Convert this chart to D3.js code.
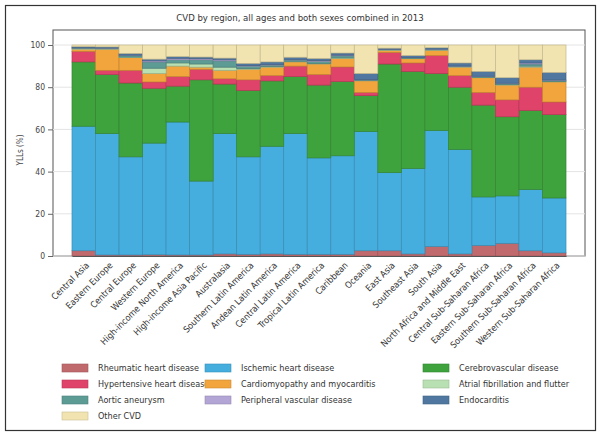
<!DOCTYPE html>
<html lang="en">
<head>
  <meta charset="UTF-8">
  <title>CVD by region</title>
  <script src="https://d3js.org/d3.v7.min.js"></script>
  <style>
    body { margin: 0; background: #fff; font-family: "Liberation Sans Narrow", "DejaVu Sans Condensed", sans-serif; }
    svg text { font-family: "Liberation Sans Narrow", "DejaVu Sans Condensed", sans-serif; }
  </style>
</head>
<body>
<script>
  const WIDTH = 602;
  const HEIGHT = 436;

  const regions = ['Central Asia', 'Eastern Europe', 'Central Europe', 'Western Europe',
    'High-income North America', 'High-income Asia Pacific', 'Australasia',
    'Southern Latin America', 'Andean Latin America', 'Central Latin America',
    'Tropical Latin America', 'Caribbean', 'Oceania', 'East Asia', 'Southeast Asia',
    'South Asia', 'North Africa and Middle East', 'Central Sub-Saharan Africa',
    'Eastern Sub-Saharan Africa', 'Southern Sub-Saharan Africa', 'Western Sub-Saharan Africa'];

  const causes = ['Rheumatic heart disease', 'Ischemic heart disease', 'Cerebrovascular disease',
    'Hypertensive heart disease', 'Cardiomyopathy and myocarditis', 'Atrial fibrillation and flutter',
    'Aortic aneurysm', 'Peripheral vascular disease', 'Endocarditis', 'Other CVD'];

  const colors = ['#c06a6e', '#45aede', '#3ea33c', '#e0436a', '#f2a53c', '#b9e0b2',
    '#5d9b95', '#b3a6d6', '#4f77a0', '#f1e4b0'];

  // YLL share (%) per region, one array per cause
  const rheumatic = [2.5, .5, .5, .6, .5, .5, 1, .8, 1, .8, .8, .8, 2.5, 2.5, 1, 4.5, 1, 5, 6, 2.5, 1.5];
  const ischemic = [59, 57.5, 46.5, 52.9, 63, 35, 57, 46.2, 51, 57.2, 45.7, 46.7, 56.5, 37, 40.5, 55, 49.5, 23, 22.5, 29, 26];
  const cerebro = [30.5, 28, 35, 26, 17, 48, 23.5, 31.5, 31, 27, 34.5, 35.2, 17, 51.5, 46, 27, 29.5, 43.5, 37.5, 37.5, 39.5];
  const hypertensive = [5, 2, 6, 3, 4.5, 5, 2.5, 5, 2.5, 5, 5, 6.9, 1.5, 5.5, 4, 8.5, 5.5, 6, 8, 11, 6];
  const cardiomyo = [1, 10, 6, 4, 5, 1, 4, 5, 4, 2, 5, 4, 5.5, 1, 2, 2.5, 4, 7, 7, 9.5, 9.5];
  const afib = [.3, .2, .3, 2.5, 1.5, 1.5, 1.5, .3, .3, .3, .3, .3, .2, .2, .2, .2, .2, .2, .2, .5, .2];
  const aortic = [.3, .3, .8, 3, 1.5, 2, 3, 1.2, .7, .6, 1, 1, .3, .2, .3, .3, .3, .3, .5, 1, .5];
  const peripheral = [.1, .1, .1, .5, .7, .5, .5, .3, .3, .3, .3, .3, .1, .1, .1, .1, .1, .2, .2, .5, .2];
  const endocarditis = [.5, .5, .8, .8, .8, .8, .8, 1, 1.2, 1, 1, 1, 2.9, .5, .9, .6, 1.4, 2.3, 2.6, 1.5, 3.6];

  const yTicks = [0, 20, 40, 60, 80, 100];

  const known = [rheumatic, ischemic, cerebro, hypertensive, cardiomyo, afib, aortic, peripheral, endocarditis];
  const otherCvd = regions.map((r, i) => 100 - d3.sum(known, s => s[i]));
  const series = known.concat([otherCvd]);

  const table = regions.map((r, i) => {
    const row = { region: r };
    causes.forEach((c, k) => { row[c] = series[k][i]; });
    return row;
  });
  const stacked = d3.stack().keys(causes)(table);

  const svg = d3.select('body').append('svg')
    .attr('width', WIDTH)
    .attr('height', HEIGHT);

  // outer frame
  svg.append('rect')
    .attr('x', 5.5).attr('y', 5.5).attr('width', 590).attr('height', 425)
    .attr('fill', 'none').attr('stroke', '#333').attr('stroke-width', 1.2);

  svg.append('text')
    .attr('x', 300).attr('y', 21)
    .attr('text-anchor', 'middle')
    .attr('font-size', 9.5).attr('fill', '#333')
    .text('CVD by region, all ages and both sexes combined in 2013');

  const plot = { left: 53, right: 585, top: 30, bottom: 256 };

  const x = d3.scaleBand()
    .domain(regions)
    .range([72, 566])
    .padding(0);

  const y = d3.scaleLinear()
    .domain([0, 100])
    .range([plot.bottom, 45]);

  // plot frame
  svg.append('rect')
    .attr('x', plot.left).attr('y', plot.top)
    .attr('width', plot.right - plot.left).attr('height', plot.bottom - plot.top)
    .attr('fill', 'none').attr('stroke', '#555').attr('stroke-width', 1);

  // gridlines
  svg.append('g').selectAll('line')
    .data(yTicks)
    .enter().append('line')
    .attr('x1', plot.left).attr('x2', plot.right)
    .attr('y1', d => y(d)).attr('y2', d => y(d))
    .attr('stroke', '#e4e4e4');

  svg.append('g')
    .selectAll('g')
    .data(stacked)
    .enter().append('g')
    .attr('fill', (d, i) => colors[i])
    .selectAll('rect')
    .data(d => d)
    .enter().append('rect')
    .attr('x', d => x(d.data.region))
    .attr('width', x.bandwidth())
    .attr('y', d => y(d[1]))
    .attr('height', d => Math.max(0, y(d[0]) - y(d[1])))
    .attr('stroke', function () { return d3.color(d3.select(this.parentNode).attr('fill')).darker(0.6); })
    .attr('stroke-width', 0.7);

  const yAxis = d3.axisLeft(y).tickValues(yTicks).tickSize(5).tickPadding(3);
  const gy = svg.append('g')
    .attr('transform', `translate(${plot.left}, 0)`)
    .call(yAxis);
  gy.select('.domain').remove();
  gy.selectAll('text').attr('font-size', 8.5).attr('fill', '#444').attr('font-family', null);
  gy.selectAll('line').attr('stroke', '#666');

  svg.append('text')
    .attr('transform', 'translate(23, 150) rotate(-90)')
    .attr('text-anchor', 'middle')
    .attr('font-size', 8).attr('fill', '#444')
    .text('YLLs (%)');

  const xAxis = d3.axisBottom(x).tickSize(0).tickPadding(0);
  const gx = svg.append('g')
    .attr('transform', `translate(0, ${plot.bottom})`)
    .call(xAxis);
  gx.select('.domain').attr('stroke', '#555');
  gx.selectAll('text')
    .attr('font-size', 9).attr('fill', '#333').attr('font-family', null)
    .attr('text-anchor', 'end')
    .attr('dy', '0.3em')
    .attr('transform', 'translate(4, 8) rotate(-45)');

  // legend
  const legCols = [62, 205, 423];
  const legend = svg.append('g').selectAll('g')
    .data(causes)
    .enter().append('g')
    .attr('transform', (d, i) => `translate(${legCols[i % 3]}, ${368 + Math.floor(i / 3) * 16})`);
  legend.append('rect')
    .attr('x', 0).attr('y', -4).attr('width', 26).attr('height', 8)
    .attr('fill', (d, i) => colors[i])
    .attr('stroke', (d, i) => d3.color(colors[i]).darker(0.5)).attr('stroke-width', 0.6);
  legend.append('text')
    .attr('x', 36).attr('dy', '0.35em')
    .attr('font-size', 9).attr('fill', '#333')
    .text(d => d);
</script>
</body>
</html>
